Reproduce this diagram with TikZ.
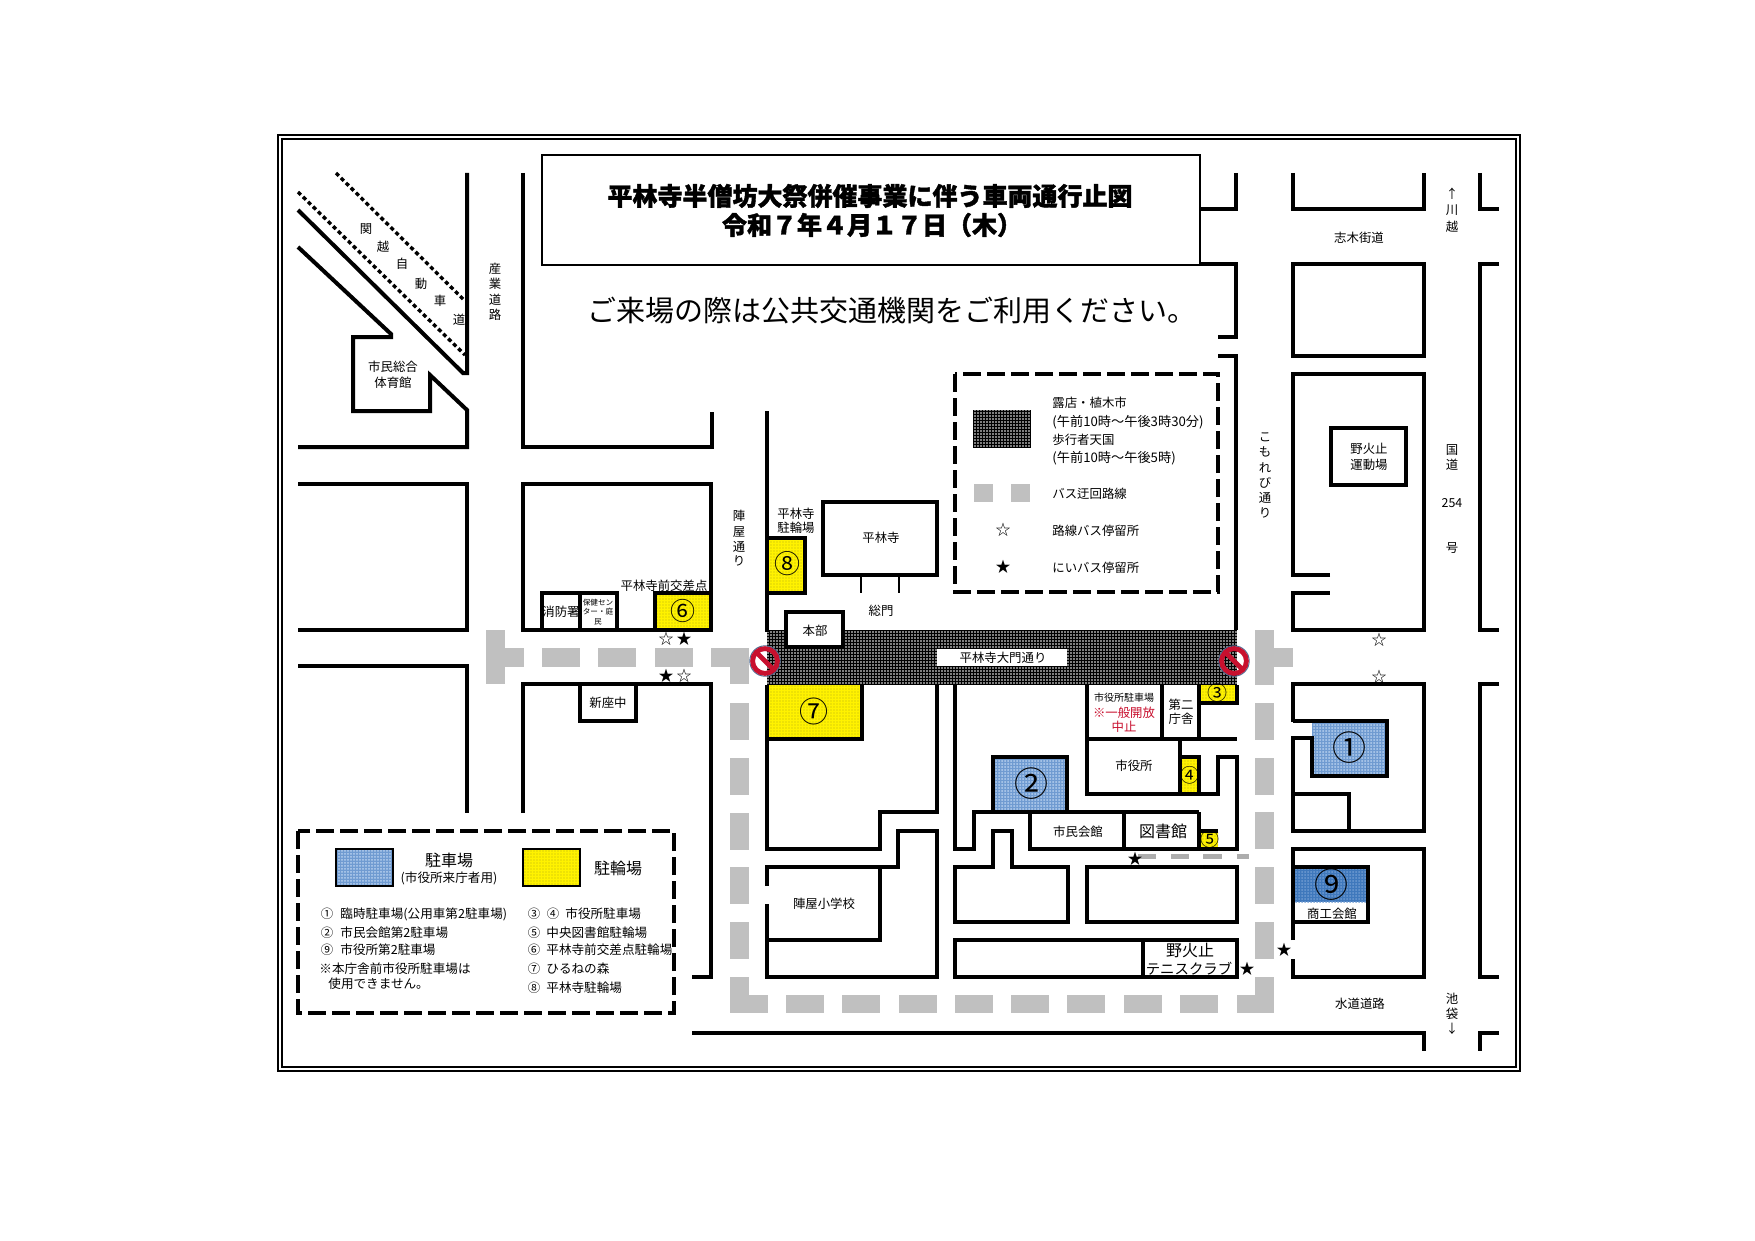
\documentclass[tikz,border=0pt]{standalone}
\usepackage{fontspec}
\setmainfont{Noto Sans CJK JP}[BoldFeatures={FakeBold=1.6}]
\usetikzlibrary{patterns.meta}
\definecolor{routegray}{HTML}{C0C0C0}
\definecolor{parkblue}{HTML}{6F9BD1}
\definecolor{parkdeep}{HTML}{3F78BC}
\definecolor{dotblue}{HTML}{B7D0EE}
\definecolor{stopred}{HTML}{C8102E}
\definecolor{stoprim}{HTML}{4F6D94}
\newcommand{\fsz}[1]{\fontsize{#1}{#1}\selectfont}
\tikzset{
    road/.style={line width=2pt}, % Street edges
    thinroad/.style={line width=1pt},
    dotroad/.style={line width=1.7pt, dash pattern=on 2pt off 1.5pt},
    legendbox/.style={line width=2pt, dash pattern=on 9pt off 3pt},
    busroute/.style={fill=routegray},
    streetfill/.style={preaction={fill=black}, pattern={Dots[radius=0.45pt, distance=1.5pt]}, pattern color=white},
    yellowfill/.style={preaction={fill=yellow}, pattern={Dots[radius=0.2pt, distance=1.5pt]}, pattern color=black!80},
    bluefill/.style={preaction={fill=parkblue}, pattern={Dots[radius=0.5pt, distance=1.5pt]}, pattern color=dotblue},
    deepfill/.style={preaction={fill=parkdeep}, pattern={Dots[radius=0.5pt, distance=1.5pt]}, pattern color=parkblue},
    lbl/.style={inner sep=0pt, align=center, yshift=-0.5pt, font=\fsz{6.2}},
    lbltiny/.style={lbl, font=\fsz{3.8}},
    lblbig/.style={lbl, font=\fsz{8}},
    lblleft/.style={lbl, anchor=west},
    lbllist/.style={lblleft, font=\fsz{6.3}},
    starmark/.style={inner sep=0pt, font=\fsz{7.5}},
}

\begin{document}
\begin{tikzpicture}[x=0.5pt, y=-0.5pt]
    \useasboundingbox (0,0) rectangle (1755,1241);
    \fill[white] (0,0) rectangle (1755,1241);

    % frame
    \draw[line width=1pt] (277.5,135) rectangle (1519.5,1070.5);
    \draw[line width=0.8pt] (282,139) rectangle (1516,1067);

    % parking and street fills
    \fill[streetfill] (767,630) rectangle (1237,685);
    \fill[yellowfill] (655,593) rectangle (711,630);
    \fill[yellowfill] (767,538) rectangle (805,593);
    \fill[yellowfill] (767,685) rectangle (862,739);
    \fill[yellowfill] (1199,685) rectangle (1237,703);
    \fill[yellowfill] (1180,757) rectangle (1199,794);
    \fill[yellowfill] (1199,831) rectangle (1218,849);
    \fill[bluefill] (993,757) rectangle (1067,812);
    \fill[bluefill] (1312,721) rectangle (1387,776);
    \fill[deepfill] (1293,867) rectangle (1368,902);

    % bus route
    \fill[busroute] (486,630) rectangle (505,684);
    \fill[busroute] (505,648) rectangle (524,667);
    \foreach \x in {542,598,655,711}
        \fill[busroute] (\x,648) rectangle ++(38,19);
    \fill[busroute] (730,667) rectangle (749,684);
    \foreach \y in {703,758,813,867,922}
        \fill[busroute] (730,\y) rectangle ++(19,37);
    \fill[busroute] (730,977) rectangle (749,1013);
    \fill[busroute] (730,995) rectangle (768,1013);
    \foreach \x in {786,842,899,955,1011,1067,1124,1180}
        \fill[busroute] (\x,995) rectangle ++(38,18);
    \fill[busroute] (1237,995) rectangle (1274,1013);
    \fill[busroute] (1255,977) rectangle (1274,995);
    \foreach \y in {703,758,812,867,922}
        \fill[busroute] (1255,\y) rectangle ++(19,37);
    \fill[busroute] (1255,630) rectangle (1274,685);
    \fill[busroute] (1274,648) rectangle (1293,667);
    \foreach \x/\w in {1138/18,1171/18,1203/19,1237/12}
        \fill[routegray!90!black] (\x,854) rectangle ++(\w,5);

    % expressway corner
    \draw[dotroad] (336,173) -- (465,301);
    \draw[dotroad] (298,192) -- (465,355);
    \draw[road] (467,173) -- (467,373) -- (463,373) -- (298,210);
    \draw[road] (298,247) -- (391,334) -- (391,337) -- (353,337) -- (353,411) -- (430,411) -- (430,375) -- (467,410) -- (467,447) -- (298,447);

    % left blocks
    \draw[road] (523,173) -- (523,447) -- (712,447) -- (712,412);
    \draw[road] (298,484) -- (467,484) -- (467,630) -- (298,630);
    \draw[road] (298,666) -- (467,666) -- (467,813);
    \draw[road] (523,484) rectangle (711,630);
    \draw[road] (542,630) -- (542,593) -- (617,593) -- (617,630);
    \draw[road] (580,593) -- (580,630);
    \draw[road] (655,630) -- (655,593) -- (711,593);
    \draw[road] (523,813) -- (523,684) -- (711,684) -- (711,977) -- (692,977);
    \draw[road] (580,684) -- (580,721) -- (636,721) -- (636,684);
    \draw[road] (692,1033) -- (1424,1033) -- (1424,1051);

    % top right blocks
    \draw[thinroad] (542,155) rectangle (1200,265);
    \draw[road] (1236,173) -- (1236,209) -- (1200,209);
    \draw[road] (1200,264) -- (1236,264) -- (1236,337) -- (1218,337);
    \draw[road] (1218,356) -- (1236,356) -- (1236,630);
    \draw[road] (1293,173) -- (1293,209) -- (1424,209) -- (1424,173);
    \draw[road] (1293,264) rectangle (1424,356);
    \draw[road] (1330,575) -- (1293,575) -- (1293,374) -- (1424,374) -- (1424,630) -- (1293,630) -- (1293,593) -- (1330,593);
    \draw[road] (1331,428) rectangle (1406,485);
    \draw[road] (1480,173) -- (1480,209) -- (1499,209);
    \draw[road] (1499,264) -- (1480,264) -- (1480,630) -- (1499,630);
    \draw[road] (1499,684) -- (1480,684) -- (1480,977) -- (1499,977);
    \draw[road] (1499,1033) -- (1480,1033) -- (1480,1051);

    % temple area
    \draw[road] (767,411) -- (767,632);
    \draw[road] (767,538) -- (805,538) -- (805,593) -- (767,593);
    \draw[road] (823,502) rectangle (937,575);
    \draw[line width=0.6pt] (861,575) -- (861,593) (899,575) -- (899,593);
    \draw[road, fill=white] (786,647) -- (786,612) -- (843,612) -- (843,647) -- cycle;
    \fill[white] (937,649) rectangle (1067,666);

    % blocks south of the street
    \draw[road] (767,685) -- (767,849) -- (880,849) -- (880,812) -- (937,812) -- (937,685);
    \draw[road] (862,685) -- (862,739) -- (767,739);
    \draw[road] (955,685) -- (955,849) -- (974,849) -- (974,812) -- (1199,812);
    \draw[road] (993,812) -- (993,757) -- (1067,757) -- (1067,812);
    \draw[road] (1030,812) -- (1030,849) -- (1237,849) -- (1237,757) -- (1218,757) -- (1218,794) -- (1087,794) -- (1087,685);
    \draw[road] (1124,812) -- (1124,849);
    \draw[road] (1199,812) -- (1199,849);
    \draw[road] (1199,831) -- (1218,831);
    \draw[road] (1087,739) -- (1237,739);
    \draw[road] (1162,685) -- (1162,739);
    \draw[road] (1199,685) -- (1199,739);
    \draw[road] (1199,703) -- (1237,703) -- (1237,685);
    \draw[road] (1180,739) -- (1180,794);
    \draw[road] (1199,794) -- (1199,757) -- (1180,757);
    \draw[road] (767,886) -- (767,867) -- (898,867) -- (898,831) -- (937,831) -- (937,977) -- (767,977) -- (767,904);
    \draw[road] (880,867) -- (880,940) -- (767,940);
    \draw[road] (955,867) -- (993,867) -- (993,831) -- (1012,831) -- (1012,867) -- (1068,867) -- (1068,922) -- (955,922) -- cycle;
    \draw[road] (1087,867) rectangle (1237,922);
    \draw[road] (955,940) rectangle (1237,977);
    \draw[road] (1143,940) -- (1143,977);

    % east blocks
    \draw[road] (1293,722) -- (1293,684) -- (1424,684) -- (1424,831) -- (1293,831) -- (1293,738) -- (1312,738) -- (1312,776) -- (1387,776) -- (1387,721) -- (1293,721);
    \draw[road] (1293,794) -- (1349,794) -- (1349,831);
    \draw[road] (1293,940) -- (1293,849) -- (1424,849) -- (1424,977) -- (1293,977) -- (1293,959);
    \draw[road] (1293,867) -- (1368,867) -- (1368,922) -- (1293,922);

    % no entry signs
    \foreach \x in {765,1234} {
        \draw[stoprim, line width=0.5pt] (\x,661) circle[radius=7.6pt];
        \draw[stopred, line width=2.4pt] (\x,661) circle[radius=6.2pt];
        \draw[stopred, line width=2.4pt] (\x-9,652) -- (\x+9,670);
    }

    % title
    \node[lbl, font=\fsz{12.5}\bfseries] (title) at (870,195) {平林寺半僧坊大祭併催事業に伴う車両通行止図};
    \node[lbl, font=\fsz{12.5}\bfseries] (titledate) at (872,224) {令和７年４月１７日（木）};
    \node[lbl, font=\fsz{14.5}] (notice) at (892,310) {ご来場の際は公共交通機関をご利用ください。};

    % street names
    \foreach \ch/\x/\y in {関/366/228, 越/383/246, 自/402/263, 動/421/283, 車/440/300, 道/459/319}
        \node[lbl] (exp\y) at (\x,\y) {\ch};
    \foreach \ch/\y in {産/268, 業/283, 道/299, 路/314}
        \node[lbl] (sangyo\y) at (495,\y) {\ch};
    \foreach \ch/\y in {陣/515, 屋/531, 通/546, り/560}
        \node[lbl] (jinya\y) at (739,\y) {\ch};
    \foreach \ch/\y in {こ/436, も/451, れ/467, び/482, 通/497, り/512}
        \node[lbl] (komo\y) at (1265,\y) {\ch};
    \foreach \ch/\y in {↑/193, 川/209, 越/226, 国/449, 道/464, 254/502, 号/547, 池/998, 袋/1013, ↓/1028}
        \node[lbl] (east\y) at (1452,\y) {\ch};
    \node[lbl] (shiki) at (1359,237) {志木街道};
    \node[lbl] (suido) at (1360,1003) {水道道路};
    \node[lbl] (daimon) at (1003,657) {平林寺大門通り};

    % building names
    \node[lbl] (gym) at (393,374) {市民総合\\[2pt]体育館};
    \node[lbl] (undo) at (1369,456) {野火止\\[2pt]運動場};
    \node[lbl] (temple) at (881,537) {平林寺};
    \node[lbl] (sanmon) at (881,610) {総門};
    \node[lbl] (honbu) at (815,630) {本部};
    \node[lbl] (bikes) at (796,520) {平林寺\\[1pt]駐輪場};
    \node[lbl] (crossing) at (664,585) {平林寺前交差点};
    \node[lbl] (fire) at (561,611) {消防署};
    \node[lbltiny] (health) at (598,611) {保健セン\\[1pt]ター・庭\\[1pt]民};
    \node[lbl] (niiza) at (608,702) {新座中};
    \node[lbl, font=\fsz{5}] (cityparkname) at (1124,697) {市役所駐車場};
    \node[lbl, text=stopred] (closed) at (1124,719) {※一般開放\\[1pt]中止};
    \node[lbl] (annex) at (1181,711) {第二\\[1pt]庁舎};
    \node[lbl] (cityhall) at (1134,765) {市役所};
    \node[lbl] (kaikan) at (1078,831) {市民会館};
    \node[lblbig] (library) at (1163,830) {図書館};
    \node[lbl] (school) at (824,903) {陣屋小学校};
    \node[lblbig] (nobi) at (1190,949) {野火止};
    \node[lbl, font=\fsz{7.2}] (tennis) at (1189,968) {テニスクラブ};
    \node[lbl] (shoko) at (1332,913) {商工会館};

    % parking numbers
    \foreach \name/\txt/\x/\y/\s in {one/①/1349/748/17, two/②/1031/784/17, three/③/1217/693/10, four/④/1190/775/9.5, five/⑤/1210/839/9.5, six/⑥/683/611/12.5, seven/⑦/814/711/14.5, eight/⑧/787/564/13, nine/⑨/1331/885/17}
        \node[inner sep=0pt, font=\fsz{\s}] (num\name) at (\x,\y) {\txt};

    % bus stops
    \foreach \name/\txt/\x/\y in {a/☆/666/639, b/★/684/639, c/★/666/676, d/☆/684/676, e/★/1135/859, f/★/1247/969, g/★/1284/950, h/☆/1379/640, i/☆/1379/677}
        \node[starmark] (stop\name) at (\x,\y) {\txt};

    % legend, upper right
    \draw[legendbox] (955,374) rectangle (1218,592);
    \fill[streetfill] (973,410) rectangle (1031,448);
    \fill[busroute] (974,484) rectangle (993,502);
    \fill[busroute] (1011,484) rectangle (1030,502);
    \node[starmark] (keya) at (1003,530) {☆};
    \node[starmark] (keyb) at (1003,567) {★};
    \foreach \txt/\y in {露店・植木市/402, 歩行者天国/439, バス迂回路線/493, 路線バス停留所/530, にいバス停留所/567}
        \node[lblleft] (key\y) at (1052,\y) {\txt};
    \foreach \txt/\y in {(午前10時～午後3時30分)/421, (午前10時～午後5時)/457}
        \node[lblleft, font=\fsz{6.6}] (key\y) at (1052,\y) {\txt};

    % legend, lower left
    \draw[legendbox] (298,831) rectangle (674,1013);
    \fill[bluefill] (336,849) rectangle (393,886);
    \fill[yellowfill] (523,849) rectangle (580,886);
    \draw[line width=0.7pt] (336,849) rectangle (393,886);
    \draw[line width=0.7pt] (523,849) rectangle (580,886);
    \node[lblbig] (carpark) at (449,859) {駐車場};
    \node[lbl, font=\fsz{6.3}] (visitors) at (449,877) {(市役所来庁者用)};
    \node[lblbig] (bikepark) at (618,867) {駐輪場};
    \foreach \txt/\y in {①/913, ②/932, ⑨/949}
        \node[lbl] (lefta\y) at (327,\y) {\txt};
    \foreach \txt/\y in {臨時駐車場(公用車第2駐車場)/913, 市民会館第2駐車場/932, 市役所第2駐車場/949}
        \node[lbllist] (leftb\y) at (340,\y) {\txt};
    \node[lbllist] (notea) at (319,968) {※本庁舎前市役所駐車場は};
    \node[lbllist] (noteb) at (328,983) {使用できません。};
    \foreach \txt/\y in {③/913, ⑤/932, ⑥/949, ⑦/968, ⑧/987}
        \node[lbl] (righta\y) at (534,\y) {\txt};
    \node[lbl] (rightfour) at (553,913) {④};
    \node[lbllist] (rightb913) at (565,913) {市役所駐車場};
    \foreach \txt/\y in {中央図書館駐輪場/932, 平林寺前交差点駐輪場/949, ひるねの森/968, 平林寺駐輪場/987}
        \node[lbllist] (rightb\y) at (546,\y) {\txt};
\end{tikzpicture}
\end{document}
